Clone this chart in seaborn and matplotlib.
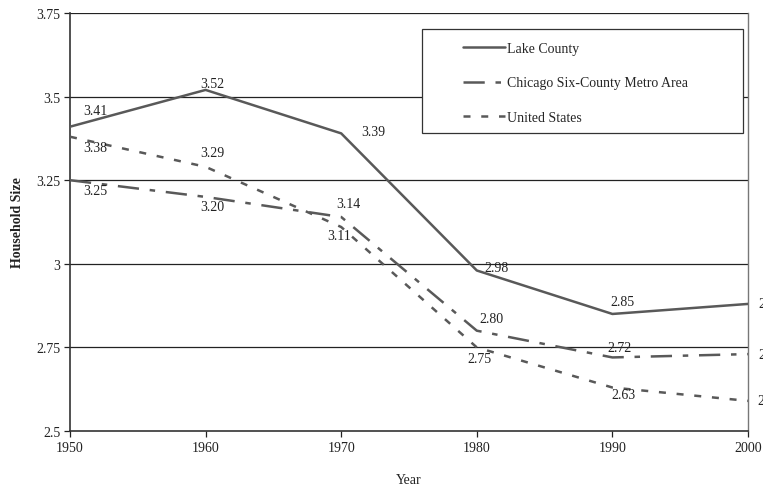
import pandas as pd
import matplotlib.pyplot as plt
import matplotlib.patches as mpatches
from matplotlib.ticker import FuncFormatter
import seaborn as sns

# Data
years = [1950, 1960, 1970, 1980, 1990, 2000]
lake_county = [3.41, 3.52, 3.39, 2.98, 2.85, 2.88]
chicago_metro = [3.25, 3.20, 3.14, 2.80, 2.72, 2.73]
united_states = [3.38, 3.29, 3.11, 2.75, 2.63, 2.59]
series_names = ["Lake County", "Chicago Six-County Metro Area", "United States"]

df = pd.DataFrame({
    "Year": years * 3,
    "Size": lake_county + chicago_metro + united_states,
    "Area": [n for n in series_names for _ in years],
})

sns.set_style("white")
plt.rcParams["font.family"] = ["Liberation Serif", "DejaVu Serif"]

LINE = "#595959"

fig = plt.figure(figsize=(7.63, 4.85), dpi=100)
ax = fig.add_axes([70 / 763, 53 / 485, 678 / 763, 418 / 485])

# gridlines
for y in [2.75, 3.0, 3.25, 3.5, 3.75]:
    ax.axhline(y, color="#222222", lw=0.9, zorder=1)

dash_styles = {
    "Lake County": "",
    "Chicago Six-County Metro Area": (8.5, 4.3, 2.2, 4.3),
    "United States": (2.8, 4.3),
}
sns.lineplot(data=df, x="Year", y="Size", style="Area", style_order=series_names,
             dashes=dash_styles, color=LINE, lw=1.8, legend=False, ax=ax, zorder=3)

# data labels (offsets in pixels)
offsets = {
    "Lake County": [(25, 16), (7, 6), (32, 2), (20, 3), (10, 12), (22, 0)],
    "Chicago Six-County Metro Area": [(25, -10), (7, -10), (7, 13), (15, 12), (7, 10), (22, 0)],
    "United States": [(25, -11), (7, 14), (-2, -8), (3, -11), (11, -7), (22, 0)],
}
for name, vals in zip(series_names, [lake_county, chicago_metro, united_states]):
    for x, v, off in zip(years, vals, offsets[name]):
        ax.annotate(f"{v:.2f}", (x, v), xytext=off, textcoords="offset pixels",
                    ha="center", va="center", fontsize=10, color="#222222",
                    annotation_clip=False, zorder=4)

ax.set_xlim(1950, 2000)
ax.set_ylim(2.5, 3.75)
ax.set_xticks(years)
ax.set_yticks([2.5, 2.75, 3.0, 3.25, 3.5, 3.75])
ax.yaxis.set_major_formatter(FuncFormatter(lambda v, p: f"{v:g}"))
ax.tick_params(axis="both", labelsize=10, colors="#222222", direction="out",
               length=4, width=0.9, left=True, bottom=True, pad=3)

ax.set_xlabel("Year", fontsize=10, color="#222222", labelpad=14)
ax.set_ylabel("Household Size", fontsize=10, fontweight="bold", color="#222222", labelpad=9)

for side in ["left", "bottom"]:
    ax.spines[side].set_color("#333333")
    ax.spines[side].set_linewidth(1.2)
ax.spines["right"].set_color("#777777")
ax.spines["right"].set_linewidth(1.0)
ax.spines["top"].set_visible(False)

# legend box
box = mpatches.Rectangle((422 / 763, 1 - 134 / 485), (743 - 422) / 763, (134 - 30) / 485,
                         transform=fig.transFigure, facecolor="white",
                         edgecolor="#333333", lw=0.9, zorder=4)
ax.add_patch(box)
leg = ax.legend(ax.lines[5:8], series_names,
                loc="upper left", bbox_to_anchor=(456 / 763, 1 - 36 / 485),
                bbox_transform=fig.transFigure, frameon=False, fontsize=10,
                handlelength=3.0, handletextpad=0.15, labelspacing=1.55, borderpad=0)
leg.set_zorder(5)

fig.savefig("out.png", dpi=100)
